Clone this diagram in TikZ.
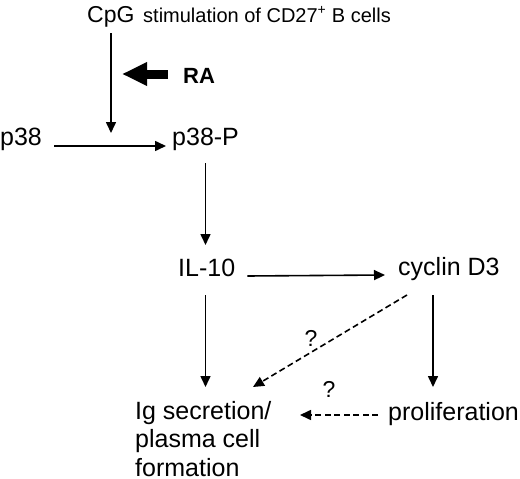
\documentclass[tikz,border=0pt]{standalone}
\usepackage{fontspec}
\setmainfont{Liberation Sans}
\usetikzlibrary{arrows.meta}
\begin{document}
\begin{tikzpicture}[x=1pt,y=-1pt,
  lbl/.style={inner sep=0pt,anchor=base west,font=\fontsize{25}{28.5}\selectfont},
  qm/.style={inner sep=0pt,font=\fontsize{23}{26}\selectfont},
  arr/.style={line width=1.6pt,-{Triangle[length=11pt,width=10pt]}},
  darr/.style={arr,dash pattern=on 6pt off 3.5pt},
  bigarr/.style={line width=9pt,-{Triangle[length=25pt,width=22pt]}}]
\useasboundingbox (0,0) rectangle (520,479);
\node[lbl,font=\fontsize{23}{26}\selectfont] (cpg) at (87,22) {CpG};
\node[lbl,font=\fontsize{20}{24}\selectfont] (stim) at (143,22) {stimulation of CD27\textsuperscript{+} B cells};
\node[lbl,font=\fontsize{22}{26}\selectfont\bfseries] (ra) at (183,83) {RA};
\node[lbl] (p38) at (0,145) {p38};
\node[lbl] (p38p) at (172,145) {p38-P};
\node[lbl] (il10) at (178,276) {IL-10};
\node[lbl] (cyc) at (398,275) {cyclin D3};
\node[lbl,align=left] (ig) at (135,476) {Ig secretion/\\plasma cell\\formation};
\node[lbl] (prol) at (388,420) {proliferation};
\node[qm] (q1) at (311,338) {?};
\node[qm] (q2) at (329,389) {?};
% connector end points
\coordinate (cpgS) at (111,33);
\coordinate (cpgE) at (111,133);
\coordinate (raS) at (168,74);
\coordinate (raE) at (122,74);
\draw[arr] (cpgS) -- (cpgE);
\draw[bigarr] (raS) -- (raE);
\draw[arr] ([xshift=12pt,yshift=-1pt]p38.base east) -- ([xshift=-6pt,yshift=-1pt]p38p.base west);
\draw[arr] (205.5,163) -- (205.5,245);
\draw[arr] ([xshift=12pt]il10.base east) -- ([xshift=-13pt]cyc.base west);
\draw[arr] (205.5,295) -- (205.5,387);
\draw[arr] (433,295) -- (433,387);
\draw[darr] (407,295) -- (253,387);
\draw[darr] (378,415) -- (300,415);
\end{tikzpicture}
\end{document}
